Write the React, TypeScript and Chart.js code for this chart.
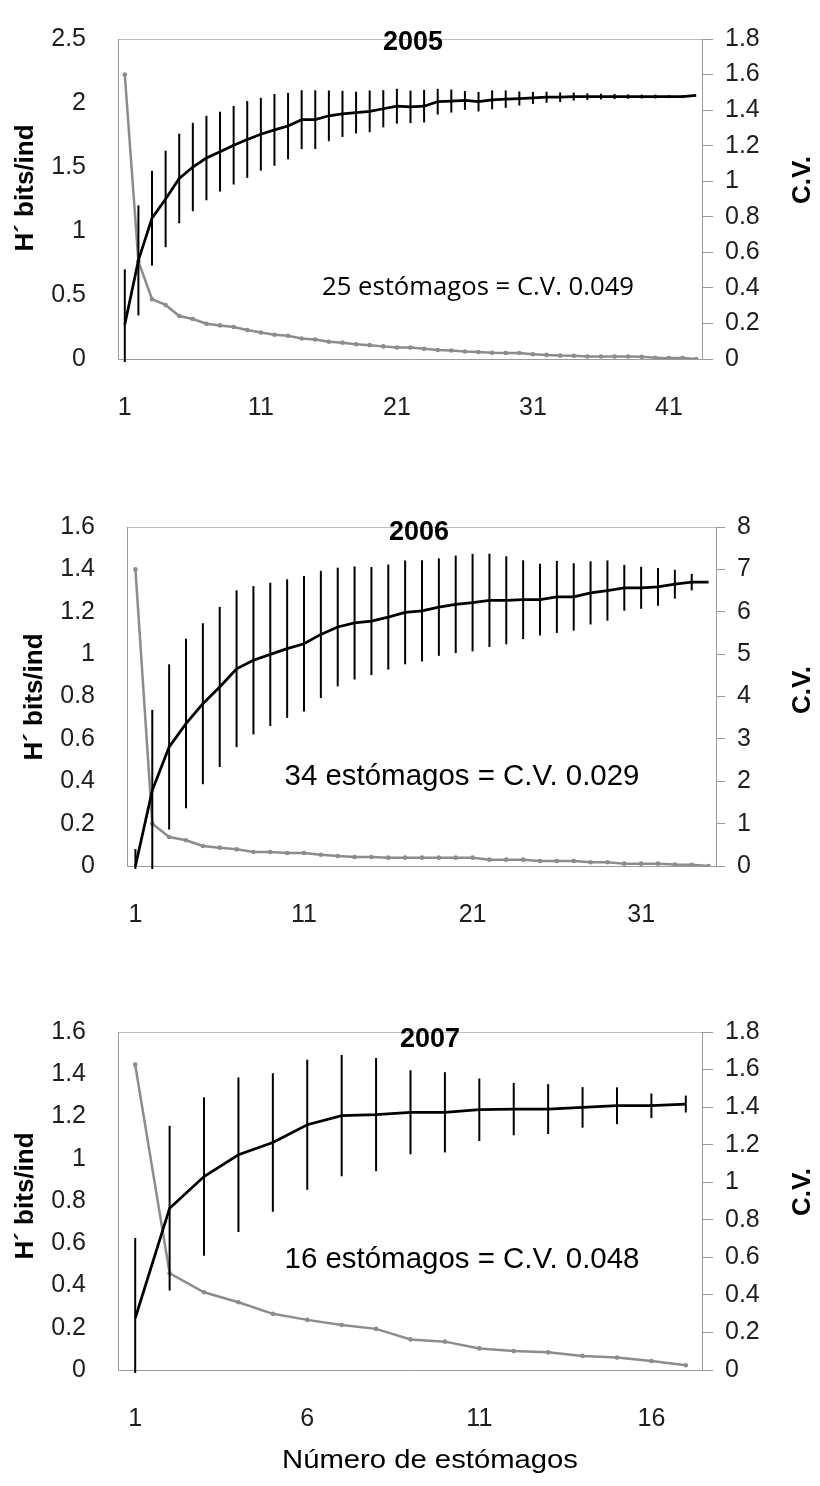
import React, { useEffect, useRef } from 'react';
import { Chart, registerables } from 'chart.js';

Chart.register(...registerables);

// ---------- 2005 ----------
const categories2005 = ['1','2','3','4','5','6','7','8','9','10','11','12','13','14','15','16','17','18','19','20','21','22','23','24','25','26','27','28','29','30','31','32','33','34','35','36','37','38','39','40','41','42','43'];
const hValues2005 = [0.27, 0.77, 1.10, 1.25, 1.41, 1.50, 1.57, 1.62, 1.67, 1.715, 1.756, 1.79, 1.82, 1.87, 1.87, 1.90, 1.915, 1.925, 1.935, 1.955, 1.975, 1.97, 1.975, 2.01, 2.015, 2.02, 2.01, 2.025, 2.03, 2.035, 2.04, 2.045, 2.045, 2.05, 2.05, 2.05, 2.05, 2.05, 2.05, 2.05, 2.05, 2.05, 2.06];
const hErrors2005 = [0.43, 0.43, 0.37, 0.377, 0.35, 0.345, 0.33, 0.312, 0.307, 0.30, 0.284, 0.28, 0.26, 0.23, 0.229, 0.198, 0.18, 0.163, 0.163, 0.145, 0.136, 0.127, 0.127, 0.10, 0.09, 0.074, 0.076, 0.074, 0.068, 0.055, 0.047, 0.043, 0.037, 0.031, 0.026, 0.022, 0.02, 0.017, 0.015, 0.015, 0.012, 0.012, 0];
const cvValues2005 = [1.6, 0.55, 0.336, 0.304, 0.242, 0.225, 0.198, 0.189, 0.18, 0.163, 0.149, 0.136, 0.131, 0.115, 0.11, 0.097, 0.092, 0.083, 0.078, 0.071, 0.065, 0.065, 0.058, 0.051, 0.048, 0.042, 0.039, 0.035, 0.034, 0.034, 0.027, 0.023, 0.019, 0.018, 0.014, 0.014, 0.014, 0.014, 0.012, 0.007, 0.005, 0.005, 0];
const xTickLabels2005 = ['1', '11', '21', '31', '41'];
const leftTicks2005 = [0, 0.5, 1, 1.5, 2, 2.5];
const rightTicks2005 = [0, 0.2, 0.4, 0.6, 0.8, 1, 1.2, 1.4, 1.6, 1.8];

// ---------- 2006 ----------
const categories2006 = ['1','2','3','4','5','6','7','8','9','10','11','12','13','14','15','16','17','18','19','20','21','22','23','24','25','26','27','28','29','30','31','32','33','34','35'];
const hValues2006 = [0, 0.357, 0.562, 0.672, 0.766, 0.845, 0.931, 0.971, 0.999, 1.026, 1.049, 1.093, 1.128, 1.147, 1.156, 1.175, 1.197, 1.204, 1.222, 1.235, 1.243, 1.254, 1.254, 1.257, 1.257, 1.27, 1.27, 1.289, 1.30, 1.313, 1.313, 1.317, 1.33, 1.34, 1.34];
const hErrors2006 = [0.08, 0.38, 0.39, 0.40, 0.38, 0.378, 0.37, 0.35, 0.338, 0.327, 0.32, 0.30, 0.28, 0.267, 0.255, 0.248, 0.245, 0.239, 0.23, 0.23, 0.23, 0.22, 0.208, 0.186, 0.169, 0.17, 0.159, 0.149, 0.142, 0.108, 0.099, 0.089, 0.068, 0.039, 0];
const cvValues2006 = [7.0, 1.0, 0.685, 0.606, 0.472, 0.433, 0.393, 0.33, 0.33, 0.307, 0.307, 0.267, 0.236, 0.212, 0.212, 0.197, 0.197, 0.197, 0.197, 0.197, 0.197, 0.15, 0.15, 0.15, 0.118, 0.118, 0.118, 0.087, 0.087, 0.055, 0.055, 0.055, 0.035, 0.029, 0];
const xTickLabels2006 = ['1', '11', '21', '31'];
const leftTicks2006 = [0, 0.2, 0.4, 0.6, 0.8, 1, 1.2, 1.4, 1.6];
const rightTicks2006 = [0, 1, 2, 3, 4, 5, 6, 7, 8];

// ---------- 2007 ----------
const categories2007 = ['1','2','3','4','5','6','7','8','9','10','11','12','13','14','15','16','17'];
const hValues2007 = [0.245, 0.766, 0.916, 1.019, 1.077, 1.161, 1.204, 1.209, 1.22, 1.22, 1.232, 1.235, 1.235, 1.243, 1.251, 1.251, 1.259];
const hErrors2007 = [0.38, 0.39, 0.375, 0.366, 0.328, 0.308, 0.287, 0.268, 0.199, 0.19, 0.148, 0.124, 0.118, 0.096, 0.087, 0.058, 0.04];
const cvValues2007 = [1.626, 0.515, 0.414, 0.361, 0.299, 0.267, 0.24, 0.219, 0.163, 0.151, 0.115, 0.101, 0.094, 0.075, 0.066, 0.048, 0.025];
const xTickLabels2007 = ['1', '6', '11', '16'];
const leftTicks2007 = [0, 0.2, 0.4, 0.6, 0.8, 1, 1.2, 1.4, 1.6];
const rightTicks2007 = [0, 0.2, 0.4, 0.6, 0.8, 1, 1.2, 1.4, 1.6, 1.8];

const ARIAL = "'Liberation Sans', Arial, Helvetica, sans-serif";
const CALIBRI_LIKE = "'Open Sans', 'Noto Sans', sans-serif";

type TextItem = {
  text: string;
  x: number;
  y: number;
  font: string;
  width?: number;
  rotate?: boolean;
};

type PanelProps = {
  top: number;
  height: number;
  area: { left: number; right: number; top: number; bottom: number };
  labels: string[];
  h: number[];
  err: number[];
  cv: number[];
  xTicks: string[];
  leftTicks: number[];
  rightTicks: number[];
  rightTickLen: number;
  texts: TextItem[];
};

function drawText(ctx: CanvasRenderingContext2D, t: TextItem, offsetY: number) {
  ctx.save();
  ctx.font = t.font;
  ctx.fillStyle = '#000';
  ctx.textAlign = 'center';
  ctx.textBaseline = 'alphabetic';
  ctx.translate(t.x, t.y - offsetY);
  if (t.rotate) ctx.rotate(-Math.PI / 2);
  if (t.width) {
    const w = ctx.measureText(t.text).width;
    if (w > 0) ctx.scale(t.width / w, 1);
  }
  ctx.fillText(t.text, 0, 0);
  ctx.restore();
}

function fmt(v: number) {
  return String(Math.round(v * 10) / 10);
}

function Panel(p: PanelProps) {
  const ref = useRef<HTMLCanvasElement>(null);
  useEffect(() => {
    const canvas = ref.current;
    if (!canvas) return;
    const a = p.area;
    const tickFont = { family: ARIAL, size: 25 };
    const tickColor = '#1e1e1e';

    const plugin = {
      id: 'panelDecor',
      beforeDatasetsDraw(chart: any) {
        const ctx = chart.ctx as CanvasRenderingContext2D;
        const ca = chart.chartArea;
        ctx.save();
        ctx.lineWidth = 1;
        ctx.strokeStyle = '#bdbdbd';
        ctx.beginPath();
        ctx.moveTo(ca.left, ca.top + 0.5);
        ctx.lineTo(ca.right, ca.top + 0.5);
        ctx.stroke();
        ctx.strokeStyle = '#9a9a9a';
        ctx.beginPath();
        ctx.moveTo(ca.left + 0.5, ca.top);
        ctx.lineTo(ca.left + 0.5, ca.bottom + 0.5);
        ctx.lineTo(ca.right - 0.5, ca.bottom + 0.5);
        ctx.lineTo(ca.right - 0.5, ca.top);
        ctx.stroke();
        ctx.restore();
      },
      afterDatasetsDraw(chart: any) {
        const ctx = chart.ctx as CanvasRenderingContext2D;
        const ca = chart.chartArea;
        const meta = chart.getDatasetMeta(0);
        const ys = chart.scales.y;
        ctx.save();
        ctx.beginPath();
        ctx.rect(ca.left, ca.top - 2, ca.right - ca.left, ca.bottom - ca.top + 5);
        ctx.clip();
        ctx.strokeStyle = '#000';
        ctx.lineWidth = 2;
        p.h.forEach((v, i) => {
          const e = p.err[i];
          if (!e) return;
          const x = meta.data[i].x;
          ctx.beginPath();
          ctx.moveTo(x, ys.getPixelForValue(v + e));
          ctx.lineTo(x, ys.getPixelForValue(v - e));
          ctx.stroke();
        });
        ctx.restore();
      },
      afterDraw(chart: any) {
        const ctx = chart.ctx as CanvasRenderingContext2D;
        p.texts.forEach((t) => drawText(ctx, t, p.top));
      },
    };

    const chart = new Chart(canvas, {
      type: 'line',
      data: {
        labels: p.labels,
        datasets: [
          {
            label: 'H´',
            data: p.h,
            yAxisID: 'y',
            borderColor: '#000000',
            borderWidth: 2.75,
            pointRadius: 0,
            tension: 0,
            fill: false,
          },
          {
            label: 'C.V.',
            data: p.cv,
            yAxisID: 'y1',
            borderColor: '#8c8c8c',
            borderWidth: 2.5,
            pointRadius: 2.3,
            pointBackgroundColor: '#8c8c8c',
            pointBorderWidth: 0,
            tension: 0,
            fill: false,
          },
        ],
      },
      options: {
        responsive: false,
        animation: false,
        events: [],
        layout: { padding: { top: a.top - p.top, left: 0, right: 0, bottom: 0 } },
        plugins: {
          legend: { display: false },
          tooltip: { enabled: false },
          title: { display: false },
        },
        scales: {
          x: {
            type: 'category',
            offset: true,
            grid: { display: false },
            border: { display: false },
            ticks: {
              autoSkip: false,
              maxRotation: 0,
              minRotation: 0,
              padding: 26,
              font: tickFont,
              color: tickColor,
              callback: (_v: any, index: number) => {
                const l = p.labels[index];
                return p.xTicks.includes(l) ? l : '';
              },
            },
            afterFit: (s: any) => {
              s.height = p.top + p.height - a.bottom;
            },
          },
          y: {
            position: 'left',
            min: 0,
            max: p.leftTicks[p.leftTicks.length - 1],
            grid: { display: false },
            border: { display: false },
            ticks: { padding: 24, font: tickFont, color: tickColor, callback: (v: any) => fmt(Number(v)) },
            afterBuildTicks: (s: any) => {
              s.ticks = p.leftTicks.map((v) => ({ value: v }));
            },
            afterFit: (s: any) => {
              s.width = a.left;
            },
          },
          y1: {
            position: 'right',
            min: 0,
            max: p.rightTicks[p.rightTicks.length - 1],
            grid: {
              display: true,
              drawOnChartArea: false,
              drawTicks: true,
              tickLength: p.rightTickLen,
              color: '#9a9a9a',
              lineWidth: 1,
            },
            border: { display: false },
            ticks: { padding: 12, font: tickFont, color: tickColor, callback: (v: any) => fmt(Number(v)) },
            afterBuildTicks: (s: any) => {
              s.ticks = p.rightTicks.map((v) => ({ value: v }));
            },
            afterFit: (s: any) => {
              s.width = 820 - a.right;
            },
          },
        },
      } as any,
      plugins: [plugin as any],
    });
    return () => chart.destroy();
  }, []);
  return (
    <canvas
      ref={ref}
      width={820}
      height={p.height}
      style={{ position: 'absolute', left: 0, top: p.top, display: 'block', width: 820, height: p.height }}
    />
  );
}

const titleFont = `bold 27px ${ARIAL}`;
const axisTitleFont = `bold 26px ${ARIAL}`;
const noteFont = `29px ${ARIAL}`;

export default function App() {
  return (
    <div style={{ position: 'absolute', left: 0, top: 0, width: 820, height: 1486, background: '#fff', overflow: 'hidden' }}>
      <Panel
        top={0}
        height={440}
        area={{ left: 118, right: 703, top: 20, bottom: 359 }}
        labels={categories2005}
        h={hValues2005}
        err={hErrors2005}
        cv={cvValues2005}
        xTicks={xTickLabels2005}
        leftTicks={leftTicks2005}
        rightTicks={rightTicks2005}
        rightTickLen={10}
        texts={[
          { text: '2005', x: 413, y: 50, font: titleFont },
          { text: '25 estómagos = C.V. 0.049', x: 478, y: 295, font: `26px ${CALIBRI_LIKE}`, width: 312 },
          { text: 'H´ bits/ind', x: 33, y: 188, font: axisTitleFont, rotate: true },
          { text: 'C.V.', x: 810, y: 180, font: axisTitleFont, rotate: true },
        ]}
      />
      <Panel
        top={450}
        height={490}
        area={{ left: 127, right: 717, top: 527, bottom: 866 }}
        labels={categories2006}
        h={hValues2006}
        err={hErrors2006}
        cv={cvValues2006}
        xTicks={xTickLabels2006}
        leftTicks={leftTicks2006}
        rightTicks={rightTicks2006}
        rightTickLen={8}
        texts={[
          { text: '2006', x: 419, y: 540, font: titleFont },
          { text: '34 estómagos = C.V. 0.029', x: 462, y: 785, font: noteFont, width: 355 },
          { text: 'H´ bits/ind', x: 42, y: 697, font: axisTitleFont, rotate: true },
          { text: 'C.V.', x: 810, y: 690, font: axisTitleFont, rotate: true },
        ]}
      />
      <Panel
        top={950}
        height={536}
        area={{ left: 118, right: 703, top: 1032, bottom: 1370 }}
        labels={categories2007}
        h={hValues2007}
        err={hErrors2007}
        cv={cvValues2007}
        xTicks={xTickLabels2007}
        leftTicks={leftTicks2007}
        rightTicks={rightTicks2007}
        rightTickLen={10}
        texts={[
          { text: '2007', x: 430, y: 1047, font: titleFont },
          { text: '16 estómagos = C.V. 0.048', x: 462, y: 1268, font: noteFont, width: 355 },
          { text: 'H´ bits/ind', x: 33, y: 1196, font: axisTitleFont, rotate: true },
          { text: 'C.V.', x: 810, y: 1192, font: axisTitleFont, rotate: true },
          { text: 'Número de estómagos', x: 430, y: 1468, font: `26px ${ARIAL}`, width: 296 },
        ]}
      />
    </div>
  );
}
